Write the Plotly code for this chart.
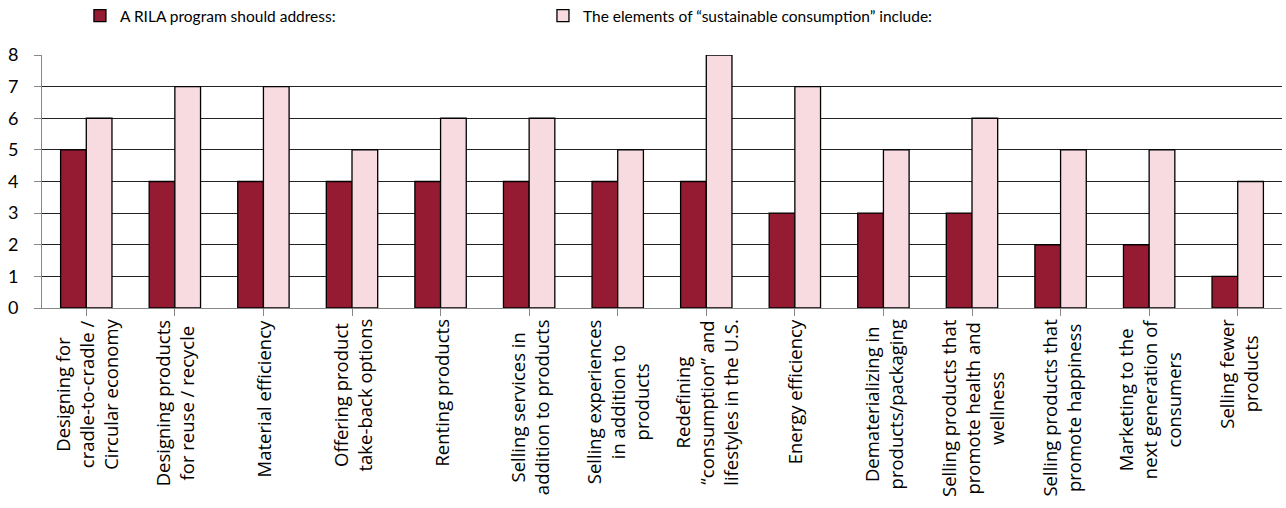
import plotly.graph_objects as go

categories = [
    "Designing for<br>cradle-to-cradle /<br>Circular economy",
    "Designing products<br>for reuse / recycle",
    "Material efficiency",
    "Offering product<br>take-back options",
    "Renting products",
    "Selling services in<br>addition to products",
    "Selling experiences<br>in addition to<br>products",
    "Redefining<br>“consumption” and<br>lifestyles in the U.S.",
    "Energy efficiency",
    "Dematerializing in<br>products/packaging",
    "Selling products that<br>promote health and<br>wellness",
    "Selling products that<br>promote happiness",
    "Marketing to the<br>next generation of<br>consumers",
    "Selling fewer<br>products",
]
rila_values = [5, 4, 4, 4, 4, 4, 4, 4, 3, 3, 3, 2, 2, 1]
elements_values = [6, 7, 7, 5, 6, 6, 5, 8, 7, 5, 6, 5, 5, 4]
series_names = ["A RILA program should address:",
                "The elements of “sustainable consumption” include:"]
y_ticks = [0, 1, 2, 3, 4, 5, 6, 7, 8]

FONT = "Lato"
LABEL_FONT = "Open Sans"
x_idx = list(range(len(categories)))

fig = go.Figure()
fig.add_trace(go.Bar(x=x_idx, y=rila_values, name=series_names[0], legend="legend",
                     showlegend=True,
                     marker=dict(color="#951B32", line=dict(color="#000000", width=1.3))))
fig.add_trace(go.Bar(x=x_idx, y=elements_values, name=series_names[1], legend="legend2",
                     showlegend=True,
                     marker=dict(color="#F8DBE0", line=dict(color="#000000", width=1.3))))

for i, lab in enumerate(categories):
    fig.add_annotation(x=i, y=0, xref="x", yref="paper", text=lab, textangle=-90,
                       showarrow=False, align="center", xanchor="center", yanchor="top",
                       yshift=-9, font=dict(family=LABEL_FONT, size=18.5, color="#000000"))

legend_common = dict(orientation="h", xanchor="left", y=1.154, yanchor="middle",
                     bgcolor="rgba(0,0,0,0)", visible=True,
                     font=dict(family=FONT, size=15.5, color="#000000"))

fig.update_layout(
    width=1286, height=508,
    showlegend=True,
    margin=dict(l=42, r=4, t=55, b=200, autoexpand=False),
    paper_bgcolor="white", plot_bgcolor="white",
    barmode="group", bargap=0.42, bargroupgap=0,
    font=dict(family=FONT, size=16, color="#000000"),
    legend=dict(x=0.0306, **legend_common),
    legend2=dict(x=0.404, **legend_common),
    xaxis=dict(range=[-0.5, len(categories) - 0.5], tickvals=x_idx, showticklabels=False,
               ticks="outside", tickson="boundaries", ticklen=7, tickcolor="#888888",
               showline=True, linecolor="#888888", linewidth=1, showgrid=False, zeroline=False),
    yaxis=dict(range=[0, 8], tickvals=y_ticks, ticks="outside", ticklen=7, tickcolor="#888888",
               showline=True, linecolor="#888888", linewidth=1, showgrid=True,
               gridcolor="#222222", gridwidth=1, zeroline=False, ticklabelstandoff=12,
               tickfont=dict(family=FONT, size=18, color="#000000")),
)

fig.write_html("out.html")
